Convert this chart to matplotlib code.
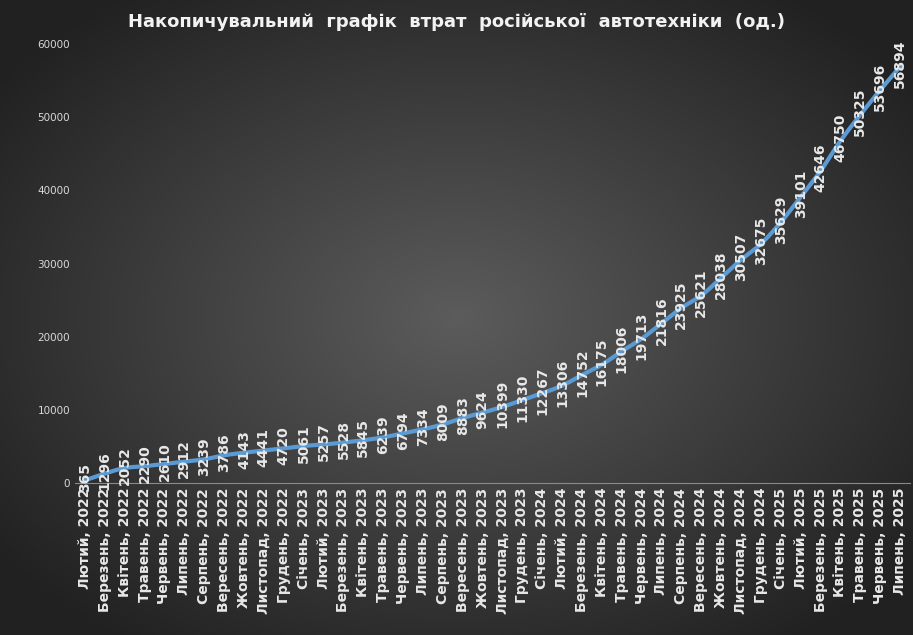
import numpy as np
import matplotlib
matplotlib.use("Agg")
import matplotlib.pyplot as plt

months = ["Січень", "Лютий", "Березень", "Квітень", "Травень", "Червень", "Липень",
          "Серпень", "Вересень", "Жовтень", "Листопад", "Грудень"]
labels = []
for y in [2022, 2023, 2024, 2025]:
    for i, m in enumerate(months):
        if (y == 2022 and i == 0) or (y == 2025 and i > 6):
            continue
        labels.append(f"{m}, {y}")
values = [365, 1296, 2052, 2290, 2610, 2912, 3239, 3786, 4143, 4441, 4720, 5061, 5257,
          5528, 5845, 6239, 6794, 7334, 8009, 8883, 9624, 10399, 11330, 12267, 13306,
          14752, 16175, 18006, 19713, 21816, 23925, 25621, 28038, 30507, 32675, 35629,
          39101, 42646, 46750, 50325, 53696, 56894]
yticks = [0, 10000, 20000, 30000, 40000, 50000, 60000]

W, H = 913, 635
fig = plt.figure(figsize=(W/100, H/100), dpi=100)
bg = fig.add_axes([0, 0, 1, 1])
yy, xx = np.mgrid[0:H, 0:W]
r = np.sqrt(((xx - W/2)/(W*0.6))**2 + ((yy - H/2)/(H*0.6))**2)
g = np.clip(0.36 - 0.22*r, 0.13, 0.4)
bg.imshow(np.dstack([g, g, g]), aspect="auto", extent=[0, 1, 0, 1])
bg.axis("off")

ax = fig.add_axes([75/W, (H-483)/H, (910-75)/W, (483-44)/H])
ax.patch.set_alpha(0)
x = np.arange(len(values))
pts = np.array([x, values], float).T
P = np.vstack([pts[0], pts, pts[-1]])
sx, sy = [], []
for i in range(1, len(P)-2):
    p0, p1, p2, p3 = P[i-1], P[i], P[i+1], P[i+2]
    for t in np.linspace(0, 1, 12, endpoint=False):
        c = 0.5*((2*p1) + (-p0+p2)*t + (2*p0-5*p1+4*p2-p3)*t*t + (-p0+3*p1-3*p2+p3)*t**3)
        sx.append(c[0]); sy.append(c[1])
sx.append(pts[-1][0]); sy.append(pts[-1][1])
ax.plot(sx, sy, color="#5b9bd5", lw=3)
for xi, v in zip(x, values):
    ax.annotate(str(v), (xi, v), xytext=(0, 2), textcoords="offset points",
                rotation=90, ha="center", va="center", color="#e8e8e8",
                fontsize=10, fontweight="bold")
ax.set_xlim(-0.5, len(values)-0.5)
ax.set_ylim(0, 60000)
ax.set_yticks(yticks)
ax.set_yticklabels([str(t) for t in yticks], color="#d9d9d9", fontsize=7.5)
ax.set_xticks(x)
ax.set_xticklabels(labels, rotation=90, color="#e8e8e8", fontsize=10, fontweight="bold")
ax.tick_params(length=0)
for s in ax.spines.values():
    s.set_visible(False)
ax.spines["bottom"].set_visible(True)
ax.spines["bottom"].set_color("#8a8a8a")
fig.text(0.5, 1-22/H, "Накопичувальний  графік  втрат  російської  автотехніки  (од.)",
         ha="center", va="center", color="#f2f2f2", fontsize=13, fontweight="bold")
fig.savefig("out.png", dpi=100)
